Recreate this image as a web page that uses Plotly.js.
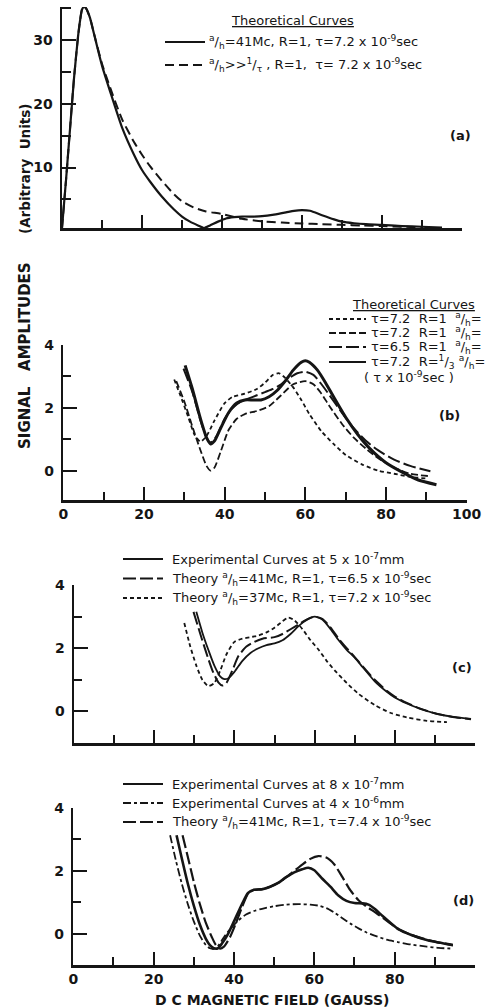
<!DOCTYPE html>
<html>
<head>
<meta charset="utf-8">
<script src="https://cdn.plot.ly/plotly-3.0.1.min.js"></script>
<style>html,body{margin:0;padding:0;background:#fff;}#chart{width:485px;height:1008px;}</style>
</head>
<body>
<div id="chart"></div>
<script>
// ---------- Panel (a) ----------
const aSolidField = [0, 1, 2, 3, 4, 4.5, 5, 5.5, 6, 7, 8, 10, 12, 15, 18, 20, 22, 25, 28, 30, 32, 34, 35.5, 37, 39, 41, 43, 45, 48, 50, 53, 56, 58, 60, 62, 65, 68, 70, 73, 76, 80, 85, 90, 95];
const aSolidValue = [0.5, 8, 16, 24, 30.5, 33, 34.8, 35.2, 35, 33.5, 31, 26, 22, 16.3, 12, 9.6, 7.8, 5.4, 3.4, 2.3, 1.5, 0.9, 0.5, 0.9, 1.5, 2.0, 2.2, 2.3, 2.3, 2.35, 2.6, 2.95, 3.2, 3.3, 3.2, 2.5, 1.85, 1.5, 1.25, 1.1, 1.0, 0.8, 0.7, 0.55];
const aDashField = [0, 1, 2, 3, 4, 4.5, 5, 5.5, 6, 7, 8, 10, 12, 15, 18, 20, 22, 25, 28, 30, 33, 36, 40, 45, 50, 55, 60, 65, 70, 75, 80, 85, 90];
const aDashValue = [0.5, 8, 16, 24, 30.5, 33, 34.8, 35.2, 35, 33.5, 31, 26.3, 22.6, 17.6, 14, 12, 10.2, 7.9, 5.8, 4.7, 3.7, 3.1, 2.7, 1.95, 1.55, 1.35, 1.2, 1.1, 1.0, 0.9, 0.8, 0.7, 0.6];

// ---------- Panel (b) ----------
const bShortField = [27.5, 29, 31, 32.5, 34, 35.5, 37.5, 40, 42, 45, 48, 50, 52, 53.5, 55, 57, 59, 61, 64, 67, 70, 74, 78, 82, 86, 90];
const bShortValue = [2.9, 2.4, 1.7, 1.15, 0.92, 1.1, 1.6, 2.15, 2.35, 2.45, 2.6, 2.8, 3.05, 3.1, 2.95, 2.65, 2.25, 1.8, 1.25, 0.85, 0.5, 0.2, 0.0, -0.1, -0.2, -0.25];
const bMedField = [28, 30, 32, 34, 35.5, 36.5, 37.5, 39, 41, 43, 45, 48, 51, 54, 57, 60, 62, 64, 66, 69, 72, 75, 78, 82, 86, 91];
const bMedValue = [2.85, 2.2, 1.4, 0.65, 0.15, 0.0, 0.1, 0.6, 1.3, 1.65, 1.8, 1.9, 2.05, 2.4, 2.75, 2.85, 2.75, 2.45, 2.05, 1.5, 1.05, 0.7, 0.4, 0.1, -0.1, -0.18];
const bLongField = [29.8, 32, 34, 35.5, 36.5, 38, 40, 42, 44, 46, 48, 50, 52, 54, 56, 58, 60, 62, 64, 66, 69, 72, 75, 78, 82, 86, 91];
const bLongValue = [3.25, 2.5, 1.6, 1.05, 0.9, 1.1, 1.65, 2.0, 2.2, 2.3, 2.4, 2.5, 2.6, 2.75, 2.95, 3.1, 3.15, 3.05, 2.75, 2.4, 1.85, 1.35, 0.95, 0.65, 0.35, 0.15, -0.02];
const bSolidField = [30.2, 32, 34, 35.5, 36.5, 37.5, 39, 41, 43, 45, 47, 49, 51, 53, 55, 57, 59, 60, 61, 63, 65, 67, 70, 73, 76, 80, 84, 88, 92.5];
const bSolidValue = [3.35, 2.6, 1.65, 1.05, 0.85, 0.95, 1.35, 1.85, 2.15, 2.25, 2.25, 2.25, 2.35, 2.55, 2.85, 3.2, 3.45, 3.5, 3.45, 3.2, 2.8, 2.35, 1.7, 1.15, 0.7, 0.25, -0.05, -0.3, -0.45];

// ---------- Panel (c) ----------
const cExpField = [30.5, 32, 33.5, 35, 36.5, 37.5, 38.5, 40, 42, 44, 46, 48, 50, 52, 54, 56, 58, 60, 62, 64, 66, 68, 70, 72, 75, 78, 80, 83, 86, 90, 94, 99];
const cExpValue = [3.15, 2.5, 1.95, 1.45, 1.1, 1.02, 1.05, 1.25, 1.6, 1.85, 2.0, 2.1, 2.15, 2.25, 2.45, 2.7, 2.9, 3.0, 2.9, 2.6, 2.25, 1.95, 1.7, 1.4, 0.95, 0.62, 0.44, 0.25, 0.1, -0.06, -0.16, -0.24];
const cTh41Field = [29.8, 31.5, 33, 34.5, 36, 37, 38, 39.5, 41, 43, 45, 47, 50, 52, 54, 56, 58, 60, 62, 64, 66, 68, 70, 72, 75, 78, 80, 83, 86, 90, 94, 99];
const cTh41Value = [3.15, 2.45, 1.85, 1.3, 0.92, 0.82, 0.9, 1.3, 1.75, 2.05, 2.2, 2.3, 2.35, 2.45, 2.6, 2.75, 2.9, 3.0, 2.92, 2.65, 2.3, 2.0, 1.72, 1.42, 1.0, 0.65, 0.47, 0.27, 0.1, -0.06, -0.17, -0.25];
const cTh37Field = [27.5, 29, 30.5, 32, 33.5, 35, 36.5, 38, 40, 42, 44, 46, 48, 50, 52, 53.5, 55, 57, 59, 61, 63, 65, 68, 71, 75, 79, 83, 88, 93];
const cTh37Value = [2.8, 2.05, 1.45, 1.0, 0.8, 0.9, 1.3, 1.8, 2.2, 2.3, 2.35, 2.4, 2.5, 2.65, 2.85, 2.97, 2.88, 2.6, 2.25, 1.95, 1.6, 1.3, 0.9, 0.55, 0.2, -0.05, -0.19, -0.3, -0.34];

// ---------- Panel (d) ----------
const dExp8Field = [25.7, 27, 28.5, 30, 31.5, 33, 34, 35, 36, 37, 38.5, 40, 42, 43.5, 45, 47, 49, 51, 53, 55, 57, 58.5, 60, 62, 64, 66, 68, 70, 72, 73.5, 75, 77, 79, 81, 84, 88, 91, 94.5];
const dExp8Value = [3.13, 2.4, 1.6, 0.9, 0.3, -0.15, -0.35, -0.45, -0.45, -0.3, 0.0, 0.4, 0.95, 1.3, 1.4, 1.42, 1.5, 1.62, 1.8, 1.95, 2.05, 2.1, 2.02, 1.75, 1.5, 1.22, 1.05, 0.98, 0.97, 0.93, 0.8, 0.57, 0.35, 0.15, -0.02, -0.19, -0.27, -0.35];
const dExp4Field = [24.1, 25.5, 27, 28.5, 30, 31.5, 33, 34, 35, 36, 37.5, 39, 41, 43, 45, 47, 50, 53, 56, 59, 61, 63, 65, 67, 69, 71, 73, 75, 78, 81, 84, 88, 91, 94.5];
const dExp4Value = [3.13, 2.35, 1.6, 0.95, 0.4, -0.05, -0.35, -0.45, -0.47, -0.38, -0.1, 0.15, 0.42, 0.62, 0.73, 0.8, 0.88, 0.93, 0.95, 0.93, 0.9, 0.82, 0.68, 0.5, 0.33, 0.18, 0.05, -0.05, -0.18, -0.26, -0.33, -0.4, -0.44, -0.46];
const dThField = [27.2, 28.5, 30, 31.5, 33, 34.5, 35.5, 36.5, 37.5, 39, 40.5, 42, 43.5, 45, 47, 49, 51, 53, 55, 57, 59, 61, 63, 65, 67, 69, 71, 73, 75, 77, 79, 81, 84, 88, 91, 94.5];
const dThValue = [3.13, 2.45, 1.65, 0.95, 0.35, -0.1, -0.35, -0.46, -0.4, -0.1, 0.35, 0.85, 1.28, 1.4, 1.42, 1.5, 1.62, 1.8, 2.0, 2.2, 2.38, 2.47, 2.42, 2.2, 1.8, 1.38, 1.07, 0.87, 0.7, 0.52, 0.33, 0.15, -0.02, -0.18, -0.27, -0.35];

// ---------- Text ----------
const AH = '<sup>a</sup>/<sub>h</sub>';
const legendA = ['Theoretical Curves', AH + '=41Mc, R=1, τ=7.2 x 10<sup>-9</sup>sec', AH + '&gt;&gt;<sup>1</sup>/<sub>τ</sub> , R=1,  τ= 7.2 x 10<sup>-9</sup>sec'];
const legendB = ['Theoretical Curves', 'τ=7.2  R=1  ' + AH + '=', 'τ=7.2  R=1  ' + AH + '=', 'τ=6.5  R=1  ' + AH + '=', 'τ=7.2  R=<sup>1</sup>/<sub>3</sub> ' + AH + '=', '( τ x 10<sup>-9</sup>sec )'];
const legendC = ['Experimental Curves at 5 x 10<sup>-7</sup>mm', 'Theory ' + AH + '=41Mc, R=1, τ=6.5 x 10<sup>-9</sup>sec', 'Theory ' + AH + '=37Mc, R=1, τ=7.2 x 10<sup>-9</sup>sec'];
const legendD = ['Experimental Curves at 8 x 10<sup>-7</sup>mm', 'Experimental Curves at 4 x 10<sup>-6</sup>mm', 'Theory ' + AH + '=41Mc, R=1, τ=7.4 x 10<sup>-9</sup>sec'];
const panelLabels = ['(a)', '(b)', '(c)', '(d)'];
const xTitle = 'D C MAGNETIC FIELD (GAUSS)';
const yTitleTop = '(Arbitrary  Units)';
const yTitleBottom = 'SIGNAL   AMPLITUDES';

// ---------- Layout helpers ----------
const W = 485, H = 1008;
const INK = '#151515';
const FONT = 'DejaVu Sans';
const px = v => v / W;
const py = v => 1 - v / H;

const DASH = {
  a: '9px,5px',
  short: '4px,3px',
  med: '7px,3px',
  long: '13px,4px',
  dashdot: '8px,3px,3px,3px'
};

function tr(x, y, xa, ya, dash, width) {
  return {x: x, y: y, xaxis: xa, yaxis: ya, type: 'scatter', mode: 'lines',
    line: {color: INK, width: width, dash: dash, shape: 'spline', smoothing: 0.6},
    hoverinfo: 'skip', showlegend: false};
}

const data = [
  tr(aDashField, aDashValue, 'x', 'y', DASH.a, 2),
  tr(aSolidField, aSolidValue, 'x', 'y', 'solid', 2.2),
  tr(bShortField, bShortValue, 'x2', 'y2', DASH.short, 1.8),
  tr(bMedField, bMedValue, 'x2', 'y2', DASH.med, 1.8),
  tr(bLongField, bLongValue, 'x2', 'y2', DASH.long, 2),
  tr(bSolidField, bSolidValue, 'x2', 'y2', 'solid', 3),
  tr(cTh37Field, cTh37Value, 'x3', 'y3', DASH.short, 1.8),
  tr(cTh41Field, cTh41Value, 'x3', 'y3', DASH.long, 2),
  tr(cExpField, cExpValue, 'x3', 'y3', 'solid', 1.8),
  tr(dExp4Field, dExp4Value, 'x4', 'y4', DASH.dashdot, 1.8),
  tr(dThField, dThValue, 'x4', 'y4', DASH.long, 2.2),
  tr(dExp8Field, dExp8Value, 'x4', 'y4', 'solid', 2.6)
];

const tickFont = {family: FONT, size: 14, color: INK, weight: 'bold'};
function xAxis(l, r, anchor, labels) {
  return {domain: [px(l), px(r)], range: [0, 100], anchor: anchor,
    showline: true, linewidth: 2.5, linecolor: INK, showgrid: false, zeroline: false,
    ticks: 'inside', tick0: 0, dtick: 20, ticklen: 13, tickwidth: 2, tickcolor: INK,
    minor: {tick0: 0, dtick: 10, ticks: 'inside', ticklen: 8, tickwidth: 2, tickcolor: INK},
    showticklabels: labels, tickfont: tickFont, fixedrange: true};
}
function yAxis(bottom, top, range, anchor, dt, mdt, tl, mtl) {
  return {domain: [py(bottom), py(top)], range: range, anchor: anchor,
    showline: true, linewidth: 2.5, linecolor: INK, showgrid: false, zeroline: false,
    ticks: 'inside', tick0: 0, dtick: dt, ticklen: tl, tickwidth: 2, tickcolor: INK,
    minor: {tick0: 0, dtick: mdt, ticks: 'inside', ticklen: mtl, tickwidth: 2, tickcolor: INK},
    showticklabels: true, tickfont: tickFont, ticklabelstandoff: 4, fixedrange: true};
}

const annotations = [];
const shapes = [];
function txt(x, y, text, size, opts) {
  annotations.push(Object.assign({xref: 'paper', yref: 'paper', x: px(x), y: py(y), text: text,
    showarrow: false, xanchor: 'left', yanchor: 'middle',
    font: {family: FONT, size: size, color: INK}}, opts || {}));
}
function sample(x0, x1, y, dash, width) {
  shapes.push({type: 'line', xref: 'paper', yref: 'paper', x0: px(x0), x1: px(x1), y0: py(y), y1: py(y),
    line: {color: INK, width: width, dash: dash}});
}

// Panel (a) legend
txt(292, 20, '<span style="text-decoration:underline">' + legendA[0] + '</span>', 13, {xanchor: 'center'});
sample(165, 205, 42, 'solid', 2); txt(207, 42, legendA[1], 13);
sample(165, 205, 65, DASH.a, 2); txt(207, 65, legendA[2], 13);
// Panel (b) legend
txt(413, 304, '<span style="text-decoration:underline">' + legendB[0] + '</span>', 13, {xanchor: 'center'});
const bDashes = [DASH.short, DASH.med, DASH.long, 'solid'];
const bRows = [319, 333, 347, 362];
for (let i = 0; i < 4; i++) {
  sample(329, 366, bRows[i], bDashes[i], i === 3 ? 2.2 : 1.8);
  txt(369, bRows[i], legendB[i + 1], 13);
}
txt(362, 377, legendB[5], 13);
// Panel (c) legend
const cDashes = ['solid', DASH.long, DASH.short];
for (let i = 0; i < 3; i++) {
  const yy = 559 + i * 19.5;
  sample(123, 163, yy, cDashes[i], 1.8);
  txt(170, yy, legendC[i], 13);
}
// Panel (d) legend
const dDashes = ['solid', DASH.dashdot, DASH.long];
for (let i = 0; i < 3; i++) {
  const yy = 784 + i * 19;
  sample(123, 163, yy, dDashes[i], i === 2 ? 2.2 : 1.8);
  txt(170, yy, legendD[i], 13);
}
// Panel labels
const lblFont = {family: FONT, size: 13, color: INK, weight: 'bold'};
txt(460, 136, panelLabels[0], 13, {xanchor: 'center', font: lblFont});
txt(449, 415, panelLabels[1], 13, {xanchor: 'center', font: lblFont});
txt(462, 667, panelLabels[2], 13, {xanchor: 'center', font: lblFont});
txt(463, 900, panelLabels[3], 13, {xanchor: 'center', font: lblFont});
// Axis titles
txt(272, 1000, xTitle, 14, {xanchor: 'center', font: {family: FONT, size: 14, color: INK, weight: 'bold'}});
txt(25, 169, yTitleTop, 13.5, {xanchor: 'center', textangle: -90, font: {family: FONT, size: 13.5, color: INK, weight: 'bold'}});
txt(25, 356, yTitleBottom, 15, {xanchor: 'center', textangle: -90, font: {family: FONT, size: 15, color: INK, weight: 'bold'}});

const layout = {
  width: W, height: H,
  margin: {l: 0, r: 0, t: 0, b: 0},
  paper_bgcolor: '#fff', plot_bgcolor: '#fff',
  showlegend: false,
  xaxis: xAxis(62, 462, 'y', false),
  yaxis: yAxis(228, 7, [0.5, 35.2], 'x', 10, 5, 14, 9),
  xaxis2: xAxis(63.3, 466.7, 'y2', true),
  yaxis2: yAxis(500, 345, [-0.936, 4], 'x2', 2, 1, 14, 8),
  xaxis3: xAxis(74, 475, 'y3', false),
  yaxis3: yAxis(743.3, 585, [-1.01, 4], 'x3', 2, 1, 14, 8),
  xaxis4: xAxis(73.3, 475, 'y4', true),
  yaxis4: yAxis(965, 807.7, [-0.98, 4], 'x4', 2, 1, 14, 8),
  annotations: annotations,
  shapes: shapes
};

Plotly.newPlot('chart', data, layout, {staticPlot: true, displayModeBar: false});
</script>
</body>
</html>
